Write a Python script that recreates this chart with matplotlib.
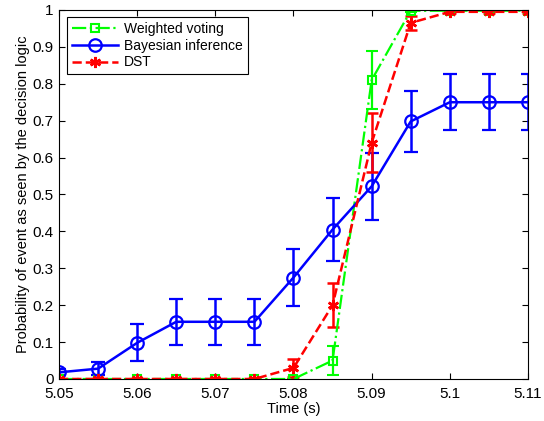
import matplotlib
matplotlib.use("Agg")
import matplotlib.pyplot as plt

plt.rcParams['font.family'] = ['Liberation Sans', 'DejaVu Sans']

# time axis (s)
t = [5.05, 5.055, 5.06, 5.065, 5.07, 5.075, 5.08, 5.085, 5.09, 5.095, 5.1, 5.105, 5.11]

# weighted voting
wv = [0, 0, 0, 0, 0, 0, 0, 0.05, 0.81, 0.998, 0.998, 0.998, 0.998]
wv_err = [0, 0, 0, 0, 0, 0, 0, 0.04, 0.078, 0.003, 0.003, 0.003, 0.003]

# bayesian inference
bay = [0.018, 0.028, 0.098, 0.155, 0.155, 0.155, 0.275, 0.405, 0.522, 0.698, 0.75, 0.75, 0.75]
bay_err = [0.008, 0.017, 0.05, 0.062, 0.062, 0.062, 0.077, 0.085, 0.09, 0.082, 0.076, 0.076, 0.076]

# DST
dst = [0, 0, 0, 0, 0, 0, 0.03, 0.2, 0.64, 0.965, 0.995, 0.995, 0.995]
dst_err = [0, 0, 0, 0, 0, 0, 0.025, 0.06, 0.08, 0.02, 0.004, 0.004, 0.004]

fig = plt.figure(figsize=(5.44, 4.21), dpi=100)
ax = fig.add_axes([0.1085, 0.0998, 0.862, 0.8765])

g = ax.errorbar(t, wv, yerr=wv_err, color=(0, 1, 0), ls='-.', lw=1.6, marker='s',
                ms=6, mfc='none', mew=1.5, capsize=4, elinewidth=1.6, capthick=1.6)
b = ax.errorbar(t, bay, yerr=bay_err, color=(0, 0, 1), ls='-', lw=1.8, marker='o',
                ms=9, mfc='none', mew=1.6, capsize=5, elinewidth=1.8, capthick=1.8)
r = ax.errorbar(t, dst, yerr=dst_err, color=(1, 0, 0), ls='--', lw=1.8, marker=(6, 2, 0),
                ms=8, mew=1.8, capsize=4, elinewidth=1.8, capthick=1.8)

ax.set_xlim(5.05, 5.11)
ax.set_ylim(0, 1)
ax.set_xticks([5.05, 5.06, 5.07, 5.08, 5.09, 5.1, 5.11])
ax.set_xticklabels(["5.05", "5.06", "5.07", "5.08", "5.09", "5.1", "5.11"])
ax.set_yticks([i / 10 for i in range(11)])
ax.set_yticklabels(["0", "0.1", "0.2", "0.3", "0.4", "0.5", "0.6", "0.7", "0.8", "0.9", "1"])
ax.tick_params(direction='in', top=True, right=True, labelsize=11, length=4)
ax.tick_params(axis='x', pad=5.5)
ax.tick_params(axis='y', pad=4)
for s in ax.spines.values():
    s.set_linewidth(0.8)

ax.set_xlabel("Time (s)", fontsize=10.5, labelpad=1)
ax.set_ylabel("Probability of event as seen by the decision logic", fontsize=10.5, labelpad=2)

leg = ax.legend([g[0], b[0], r[0]], ["Weighted voting", "Bayesian inference", "DST"],
                loc='upper left', bbox_to_anchor=(0.017, 0.981), borderaxespad=0,
                fontsize=10, fancybox=False, framealpha=1, edgecolor='black',
                handlelength=3.3, borderpad=0.35, labelspacing=0.2, handletextpad=0.45)
leg.get_frame().set_linewidth(0.8)

fig.savefig("out.png", dpi=100)
